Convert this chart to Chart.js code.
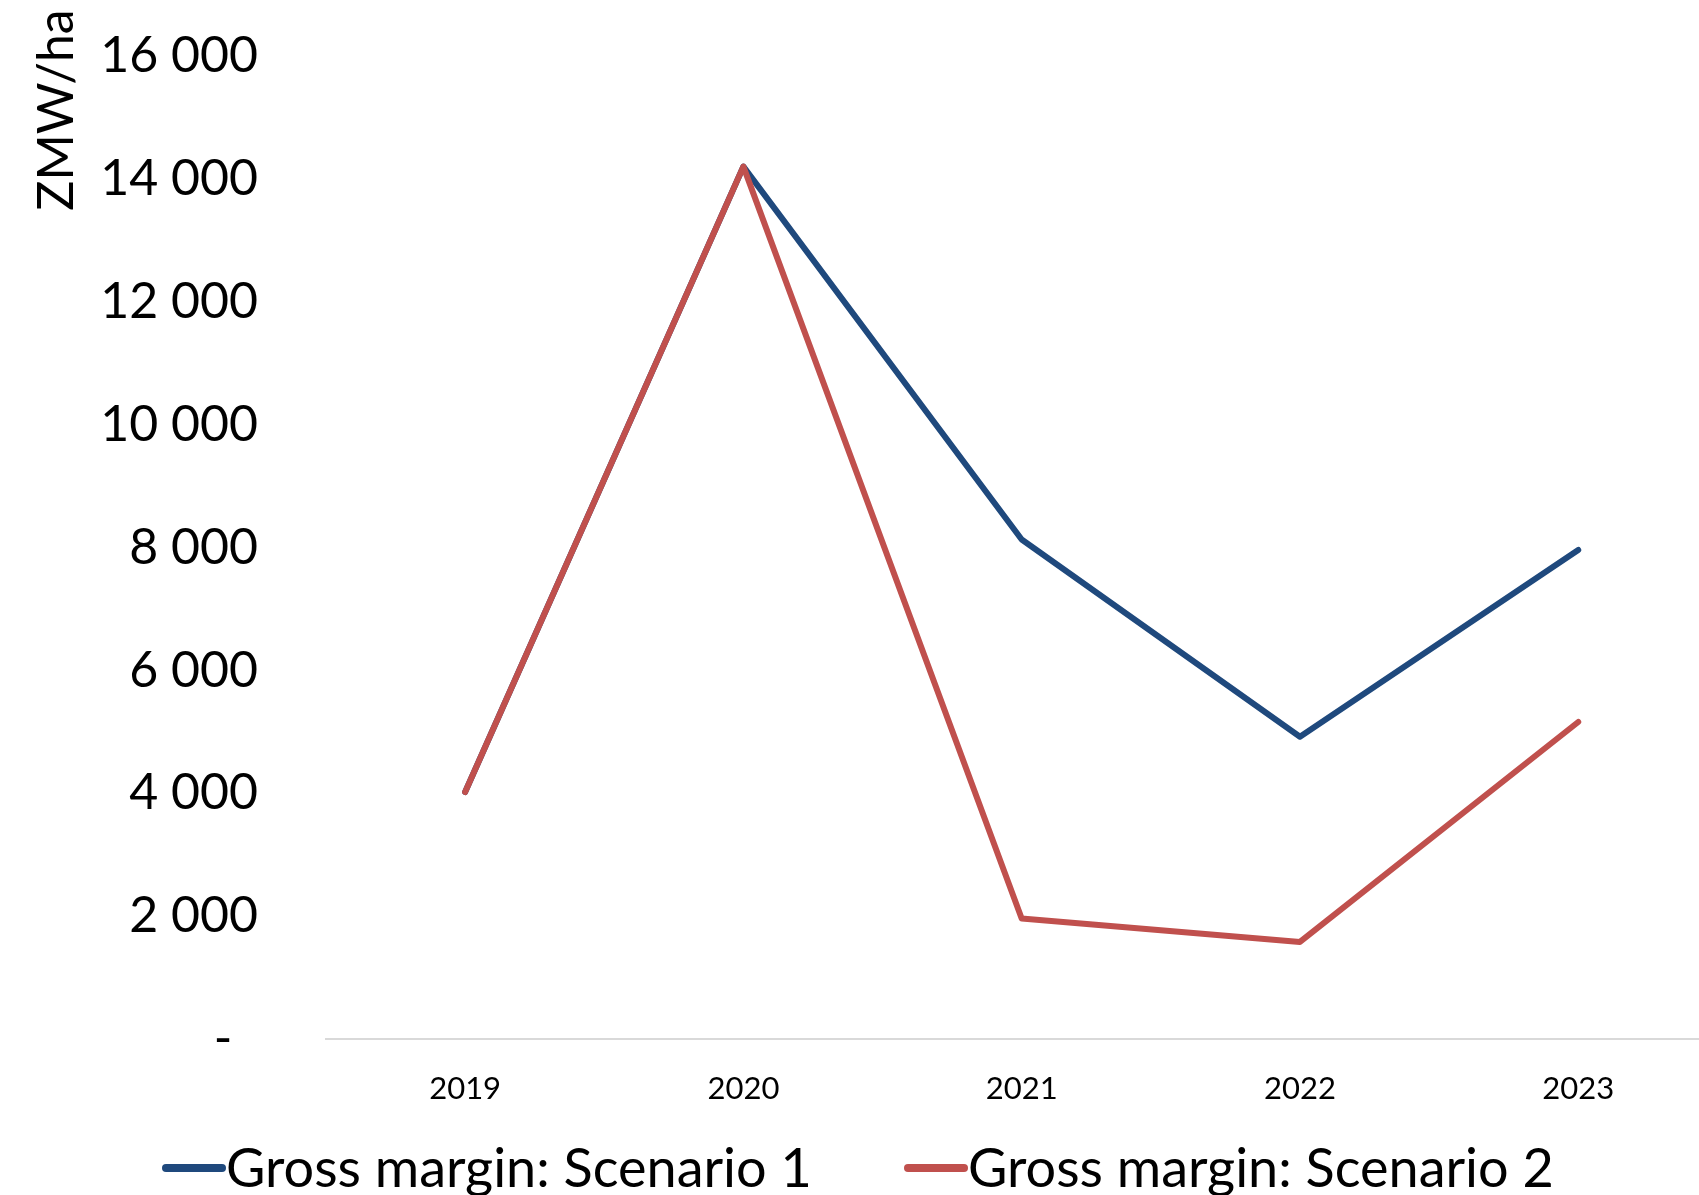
<!DOCTYPE html>
<html>
<head>
<meta charset="utf-8">
<script src="https://cdn.jsdelivr.net/npm/chart.js@4.4.1/dist/chart.umd.min.js"></script>
<style>
  html, body { margin: 0; padding: 0; background: #ffffff; }
  #wrap { width: 1699px; height: 1195px; position: relative; }
</style>
</head>
<body>
<div id="wrap"><canvas id="c" width="1699" height="1195"></canvas></div>
<script>
const years = [2019, 2020, 2021, 2022, 2023];
const scenario1 = [4020, 14200, 8130, 4920, 7960];
const scenario2 = [4020, 14200, 1960, 1580, 5160];
const seriesNames = ['Gross margin: Scenario 1', 'Gross margin: Scenario 2'];
const yTicks = [0, 2000, 4000, 6000, 8000, 10000, 12000, 14000, 16000];
const yTitle = 'ZMW/ha';

const FONT = 'Lato';
const BLUE = '#1F497D';
const RED = '#C0504D';

function fmt(v) {
  if (v === 0) return '-  ';
  return String(Math.round(v)).replace(/\B(?=(\d{3})+(?!\d))/g, ' ');
}

const yTitlePlugin = {
  id: 'yTitlePlugin',
  afterDraw(chart) {
    const ctx = chart.ctx;
    ctx.save();
    ctx.font = '50px ' + FONT;
    ctx.fillStyle = '#000';
    ctx.translate(57, 110);
    ctx.rotate(-Math.PI / 2);
    ctx.textAlign = 'center';
    ctx.textBaseline = 'middle';
    ctx.fillText(yTitle, 0, 0);
    ctx.restore();
  }
};

const legendPlugin = {
  id: 'legendPlugin',
  afterDraw(chart) {
    const ctx = chart.ctx;
    const items = [
      { x0: 166, x1: 222, tx: 226 },
      { x0: 908, x1: 964, tx: 968 }
    ];
    const y = 1168;
    ctx.save();
    ctx.font = '54px ' + FONT;
    ctx.textBaseline = 'middle';
    ctx.textAlign = 'left';
    chart.data.datasets.forEach((ds, i) => {
      const it = items[i];
      ctx.strokeStyle = ds.borderColor;
      ctx.lineWidth = 8;
      ctx.lineCap = 'round';
      ctx.beginPath();
      ctx.moveTo(it.x0, y);
      ctx.lineTo(it.x1, y);
      ctx.stroke();
      ctx.fillStyle = '#000';
      ctx.fillText(ds.label, it.tx, y + 2);
    });
    ctx.restore();
  }
};

new Chart(document.getElementById('c'), {
  type: 'line',
  data: {
    datasets: [
      {
        label: seriesNames[0],
        data: years.map((y, i) => ({ x: y, y: scenario1[i] })),
        borderColor: BLUE,
        backgroundColor: BLUE,
        borderWidth: 6,
        pointRadius: 0,
        borderCapStyle: 'round',
        borderJoinStyle: 'round',
        tension: 0,
        order: 2
      },
      {
        label: seriesNames[1],
        data: years.map((y, i) => ({ x: y, y: scenario2[i] })),
        borderColor: RED,
        backgroundColor: RED,
        borderWidth: 6,
        pointRadius: 0,
        borderCapStyle: 'round',
        borderJoinStyle: 'round',
        tension: 0,
        order: 1
      }
    ]
  },
  options: {
    responsive: false,
    animation: false,
    devicePixelRatio: 1,
    layout: { padding: { top: 56, right: 0, bottom: 0, left: 0 } },
    plugins: {
      legend: { display: false },
      tooltip: { enabled: false },
      title: { display: false }
    },
    scales: {
      x: {
        type: 'linear',
        min: 2018.5,
        max: 2023.434,
        afterFit(s) { s.height = 156; s.paddingLeft = 0; s.paddingRight = 0; },
        afterBuildTicks(s) {
          s.ticks = years.map(v => ({ value: v }));
        },
        grid: { display: false, drawTicks: false },
        border: { display: true, color: '#D9D9D9', width: 2 },
        ticks: {
          padding: 31,
          color: '#000',
          font: { family: FONT, size: 31 },
          callback: v => String(v),
          maxRotation: 0,
          autoSkip: false
        }
      },
      y: {
        min: 0,
        max: 16000,
        afterFit(s) { s.width = 326; s.paddingTop = 0; s.paddingBottom = 0; },
        afterBuildTicks(s) {
          s.ticks = yTicks.map(v => ({ value: v }));
        },
        grid: { display: false, drawTicks: false },
        border: { display: false },
        ticks: {
          padding: 68,
          color: '#000',
          font: { family: FONT, size: 50 },
          callback: v => fmt(v)
        }
      }
    }
  },
  plugins: [yTitlePlugin, legendPlugin]
});
</script>
</body>
</html>
